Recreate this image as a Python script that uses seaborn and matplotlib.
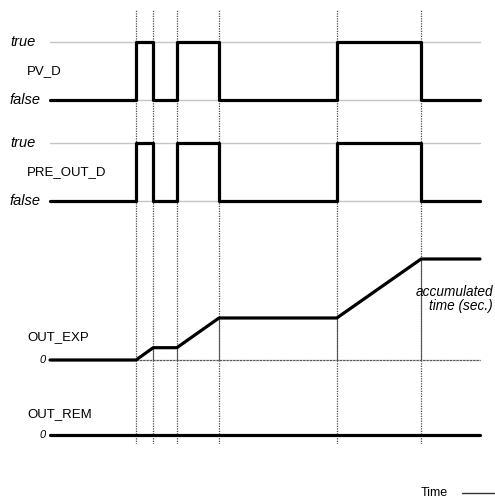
import matplotlib
matplotlib.use("Agg")
import matplotlib.pyplot as plt
import seaborn as sns
import pandas as pd

# Timing diagram of the digital inputs and the accumulated time output
times = [0, 20, 24, 29.5, 39.3, 66.7, 86.3, 100]
pv_d = [0, 1, 0, 1, 0, 1, 0, 0]
pre_out_d = [0, 1, 0, 1, 0, 1, 0, 0]
out_exp = [0, 0, 2.9, 2.9, 9.9, 9.9, 23.8, 23.8]
out_rem = [0, 0, 0, 0, 0, 0, 0, 0]
event_times = [20, 24, 29.5, 39.3, 66.7, 86.3]

sns.set_theme(style="white")
plt.rcParams["font.family"] = ["Liberation Sans", "DejaVu Sans"]
plt.rcParams["text.color"] = "black"

W, H = 495, 499
fig = plt.figure(figsize=(W / 100, H / 100), dpi=100)

x_left, x_right = 50, 480


def axes_px(top, bottom):
    return fig.add_axes([x_left / W, 1 - bottom / H,
                         (x_right - x_left) / W, (bottom - top) / H])


def clean(ax):
    ax.set_xlim(times[0], times[-1])
    ax.set_axis_off()
    ax.patch.set_alpha(0)


# vertical dotted event markers
ax_bg = axes_px(9, 444)
clean(ax_bg)
ax_bg.set_ylim(0, 1)
for t in event_times:
    ax_bg.axvline(t, color="#4a4a4a", lw=0.9, ls=(0, (1, 1)))

black = "#000000"
grey = "#c4c4c4"
label_dx = -23 / (x_right - x_left)

# digital signals
for name, values, top, bottom in [("PV_D", pv_d, 42, 100),
                                  ("PRE_OUT_D", pre_out_d, 143, 201)]:
    ax = axes_px(top, bottom)
    clean(ax)
    ax.set_ylim(0, 1)
    for level in (0, 1):
        ax.axhline(level, color=grey, lw=1.0, clip_on=False, zorder=1)
    df = pd.DataFrame({"t": times, "v": values})
    sns.lineplot(data=df, x="t", y="v", ax=ax, drawstyle="steps-post",
                 color=black, lw=2.3, clip_on=False, zorder=3)
    ax.text(-40 / (x_right - x_left), 1, "true", transform=ax.transAxes,
            ha="left", va="center", fontsize=10.5, style="italic")
    ax.text(-40 / (x_right - x_left), 0, "false", transform=ax.transAxes,
            ha="left", va="center", fontsize=10.5, style="italic")
    ax.text(label_dx, 0.5, name, transform=ax.transAxes,
            ha="left", va="center", fontsize=9.5)
    ax.set_xlabel("")
    ax.set_ylabel("")

# accumulated time
ax_exp = axes_px(259, 360)
clean(ax_exp)
ax_exp.set_ylim(0, out_exp[-1])
ax_exp.axhline(0, color=grey, lw=1.0, clip_on=False, zorder=1)
ax_exp.plot([event_times[0], times[-1]], [0, 0], color="#555555", lw=0.8,
            ls=(0, (2, 1)), clip_on=False, zorder=2)
for t, v in zip(times[2:-1], out_exp[2:-1]):
    ax_exp.plot([t, t], [0, v], color="#555555", lw=0.8, clip_on=False)
df_exp = pd.DataFrame({"t": times, "v": out_exp})
sns.lineplot(data=df_exp, x="t", y="v", ax=ax_exp, color=black, lw=2.3,
             clip_on=False, zorder=3)
ax_exp.set_xlabel("")
ax_exp.set_ylabel("")
ax_exp.text(label_dx, 0.23, "OUT_EXP", transform=ax_exp.transAxes,
            ha="left", va="center", fontsize=9.5)
ax_exp.text(-4 / (x_right - x_left), 0, "0", transform=ax_exp.transAxes,
            ha="right", va="center", fontsize=8, style="italic")
ax_exp.text(1.03, 0.6, "accumulated\ntime (sec.)", transform=ax_exp.transAxes,
            ha="right", va="center", fontsize=9.8, style="italic", linespacing=1.0)

# remaining time (stays at zero)
ax_rem = axes_px(385, 435)
clean(ax_rem)
ax_rem.set_ylim(0, 1)
df_rem = pd.DataFrame({"t": times, "v": out_rem})
sns.lineplot(data=df_rem, x="t", y="v", ax=ax_rem, color=black, lw=2.3,
             clip_on=False, zorder=3)
ax_rem.set_xlabel("")
ax_rem.set_ylabel("")
ax_rem.text(label_dx, 0.42, "OUT_REM", transform=ax_rem.transAxes,
            ha="left", va="center", fontsize=9.5)
ax_rem.text(-4 / (x_right - x_left), 0, "0", transform=ax_rem.transAxes,
            ha="right", va="center", fontsize=8, style="italic")

# time axis hint
fig.text(434 / W, 1 - 493 / H, "Time", ha="center", va="center", fontsize=9)
fig.add_artist(plt.Line2D([462 / W, 495 / W], [1 - 493 / H, 1 - 493 / H],
                          color="#333333", lw=1.0))

fig.savefig("out.png", dpi=100)
